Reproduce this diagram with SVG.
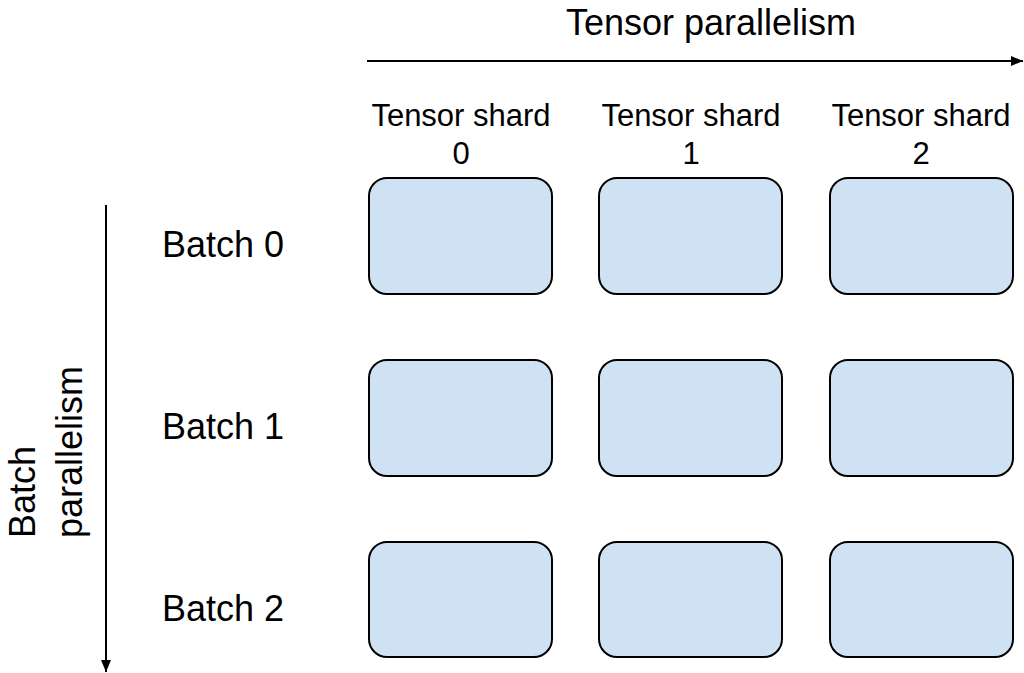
<svg xmlns="http://www.w3.org/2000/svg" width="1024" height="673" viewBox="0 0 1024 673">
  <style>
    .shard { fill: #cfe2f3; stroke: #000000; stroke-width: 2; }
    .lbl { font-family: "Liberation Sans", Arial, sans-serif; fill: #000000; }
    .big { font-size: 36px; }
    .small { font-size: 31px; text-anchor: middle; }
    .axis { stroke: #000000; stroke-width: 2; fill: none; }
  </style>
  <defs>
    <marker id="arrowhead" markerUnits="userSpaceOnUse" markerWidth="14" markerHeight="12" refX="12" refY="6" orient="auto">
      <path d="M0,1 L12,6 L0,11 Z" fill="#000000"/>
    </marker>
  </defs>
  <rect width="1024" height="673" fill="#ffffff"/>

  <!-- axis arrows -->
  <g id="connectors">
    <line class="axis" x1="367" y1="61" x2="1023" y2="61" marker-end="url(#arrowhead)"/>
    <line class="axis" x1="106" y1="205" x2="106" y2="672" marker-end="url(#arrowhead)"/>
  </g>

  <!-- axis titles -->
  <g id="axis-labels">
    <text class="lbl big" x="711" y="35" text-anchor="middle">Tensor parallelism</text>
    <text class="lbl big" transform="translate(35,538) rotate(-90)">Batch</text>
    <text class="lbl big" transform="translate(82,538) rotate(-90)">parallelism</text>
  </g>

  <!-- column headers -->
  <g id="shard-headers">
    <text class="lbl small" x="461" y="126">Tensor shard</text>
    <text class="lbl small" x="461" y="164">0</text>
    <text class="lbl small" x="691" y="126">Tensor shard</text>
    <text class="lbl small" x="691" y="164">1</text>
    <text class="lbl small" x="921" y="126">Tensor shard</text>
    <text class="lbl small" x="921" y="164">2</text>
  </g>

  <!-- row headers -->
  <g id="batch-labels">
    <text class="lbl big" x="162" y="257">Batch 0</text>
    <text class="lbl big" x="162" y="439">Batch 1</text>
    <text class="lbl big" x="162" y="621">Batch 2</text>
  </g>

  <!-- grid of shards -->
  <g id="b0-s0"><rect class="shard" x="369" y="178" width="183" height="116" rx="18"/></g>
  <g id="b0-s1"><rect class="shard" x="599" y="178" width="183" height="116" rx="18"/></g>
  <g id="b0-s2"><rect class="shard" x="830" y="178" width="183" height="116" rx="18"/></g>
  <g id="b1-s0"><rect class="shard" x="369" y="360" width="183" height="116" rx="18"/></g>
  <g id="b1-s1"><rect class="shard" x="599" y="360" width="183" height="116" rx="18"/></g>
  <g id="b1-s2"><rect class="shard" x="830" y="360" width="183" height="116" rx="18"/></g>
  <g id="b2-s0"><rect class="shard" x="369" y="542" width="183" height="115" rx="18"/></g>
  <g id="b2-s1"><rect class="shard" x="599" y="542" width="183" height="115" rx="18"/></g>
  <g id="b2-s2"><rect class="shard" x="830" y="542" width="183" height="115" rx="18"/></g>
</svg>
